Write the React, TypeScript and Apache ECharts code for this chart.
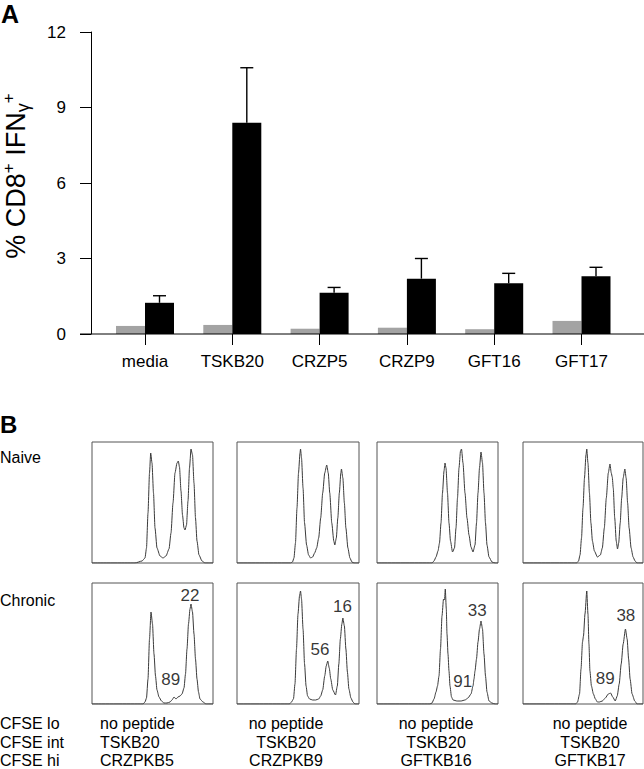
import React, { useEffect, useRef } from "react";
import * as echarts from "echarts";

const FONT = "'Liberation Sans', Arial, Helvetica, sans-serif";

// ---------- Panel A data ----------
const categories = ["media", "TSKB20", "CRZP5", "CRZP9", "GFT16", "GFT17"];
const yTicks = [0, 3, 6, 9, 12];
const naiveValues = [0.32, 0.36, 0.21, 0.25, 0.19, 0.52];
const chronicValues = [1.24, 8.39, 1.64, 2.2, 2.02, 2.29];
const chronicUpper = [1.52, 10.58, 1.85, 3.0, 2.41, 2.65];

// ---------- Panel B data (histogram traces, x: channel, y: count) ----------
const naive1 = [[0,0],[43,0],[50,2],[53,5],[54.5,15],[56,50],[57.5,90],[58.7,110],[60,100],[61.5,70],[63,35],[65,15],[68,7],[71,5],[74,7],[77,14],[79,30],[81,60],[83,90],[85,100],[86.3,102],[87.5,96],[89,72],[90.5,48],[92,35],[93,33],[94.5,38],[96,62],[97.5,95],[99,114],[100.5,108],[102,80],[103.5,45],[105,22],[107,8],[110,2],[113,0],[121,0]];
const naive2 = [[0,0],[53,0],[55,1],[56.5,5],[58,20],[59.5,55],[61,90],[62.5,110],[63,114],[64,105],[65.5,75],[67,40],[69,18],[71,8],[73,5],[75,6],[77,10],[79,15],[81,25],[83,45],[85,70],[87,90],[89,98],[90.5,90],[92,70],[94,40],[96,22],[97,18],[98.5,25],[100,45],[101.5,70],[103,90],[103.6,94],[105,85],[106.5,60],[108,35],[110,15],[112,5],[114,1],[116,0],[121,0]];
const naive3 = [[0,0],[55,0],[57,2],[59,6],[61,12],[62.5,20],[64,40],[65.5,70],[67,92],[68,100],[69,95],[70.5,70],[72,40],[73.5,22],[75.5,11],[77.5,15],[79,35],[80.5,65],[82,95],[83.5,112],[84.5,114],[86,100],[88,70],[90,45],[92,28],[94,16],[96,11],[98,18],[99.5,40],[101,70],[102.5,95],[104,111],[105.5,100],[107,70],[108.5,40],[110,18],[112,6],[115,1],[118,0],[121,0]];
const naive4 = [[0,0],[54,0],[56,2],[57.5,8],[59,25],[60.5,55],[62,85],[63.5,108],[64.3,114],[65.5,100],[67,70],[68.5,40],[70,22],[72,12],[75,6],[78,8],[80,15],[82,35],[84,65],[86,90],[87.7,99],[89,90],[90,86],[91,75],[92.5,45],[94,22],[95.3,14],[96.5,20],[98,40],[99.5,65],[101,85],[102.7,94],[104,85],[105.5,60],[107,35],[109,15],[111,6],[113,2],[115,0],[121,0]];
const chronic1 = [[0,0],[51,0],[53,2],[54.5,6],[56,25],[57.5,65],[59,92],[60.5,80],[62,50],[63.5,28],[65,14],[67,7],[69.5,3],[72,1],[75,1],[78,2],[80,4],[82,7],[84,5],[86,7],[88,8],[90,10],[92,16],[93.5,30],[95,55],[96.5,80],[98,95],[99,100],[100.5,92],[102,70],[103.5,45],[105,25],[106.5,12],[108,5],[111,2],[114,0],[121,0]];
const chronic2 = [[0,0],[52,0],[54,2],[56,5],[57.5,20],[59,55],[60.5,90],[62,108],[63,113],[64,105],[65.5,75],[67,40],[68.5,18],[70,8],[72,5],[75,4],[78,4],[81,5],[83,8],[85,14],[87,28],[88.5,38],[90,43],[91.5,36],[93,25],[95,14],[97.7,9],[99.5,18],[101,40],[102.5,65],[104,80],[105,86],[106.5,78],[108,55],[109.5,32],[111,15],[113,6],[115,2],[117,0],[121,0]];
const chronic3 = [[0,0],[53,0],[55,1],[57,5],[59,12],[60.5,18],[62,28],[63.5,55],[65,88],[66.5,105],[67.5,104],[68.3,115],[69.3,95],[70,70],[71,50],[72,33],[73,18],[74.5,7],[76,4],[80,3],[84,3],[88,4],[91,6],[94,10],[96,18],[97,25],[98,33],[99.5,45],[101,62],[102.5,75],[104,83],[105.5,75],[107,50],[108.5,28],[110,12],[112,3],[115,1],[118,0],[121,0]];
const chronic4 = [[0,0],[53,0],[55,2],[57,10],[58.5,35],[60,62],[61,68],[62.5,90],[64.3,113],[65.5,90],[66.5,60],[67.5,33],[69,18],[71,10],[73,5],[75,2],[77,2],[80,3],[83,6],[86,10],[88.3,11],[90.5,7],[93,3],[95,8],[97,20],[99,40],[101,60],[103.3,75],[105,65],[106.5,45],[108,25],[110,10],[112.7,3],[115,0],[121,0]];
const naiveCurves = [naive1, naive2, naive3, naive4];
const chronicCurves = [chronic1, chronic2, chronic3, chronic4];

// percentages shown in the chronic panels: [upper peak, lower peak]
const chronicPercents = [["22", "89"], ["16", "56"], ["33", "91"], ["38", "89"]];
// annotation anchor points, in histogram coordinates
const percentAnchors = [
  [[98, 109], [78.7, 25]],
  [[104.7, 98], [82.3, 55]],
  [[100.3, 94], [85.7, 23]],
  [[103.7, 89], [83, 26]],
];

const rowNames = ["Naive", "Chronic"];
const cfseNames = ["CFSE lo", "CFSE int", "CFSE hi"];
const peptideSets = [
  ["no peptide", "TSKB20", "CRZPKB5"],
  ["no peptide", "TSKB20", "CRZPKB9"],
  ["no peptide", "TSKB20", "GFTKB16"],
  ["no peptide", "TSKB20", "GFTKB17"],
];

// ---------- layout ----------
const colLeft = [92, 237, 377, 523];
const colWidth = [121, 122, 121, 120];
const rowTop = [442, 583];
const boxH = 121;
const peptideX = [100, 286, 436, 590];
const peptideAlign = ["left", "center", "center", "center"];
const cfseY = [723, 742, 760];

function buildOption() {
  const grids: any[] = [
    { left: 101.35, right: 644 - 625.15, top: 32, bottom: 769 - 334, containLabel: false },
  ];
  const xAxes: any[] = [
    {
      type: "category",
      gridIndex: 0,
      data: categories,
      axisLine: { show: false },
      axisTick: { show: true, alignWithLabel: true, length: 11, lineStyle: { color: "#000", width: 1 } },
      axisLabel: { color: "#000", fontSize: 17, fontFamily: FONT, margin: 19 },
    },
  ];
  const yAxes: any[] = [
    {
      type: "value",
      gridIndex: 0,
      min: 0,
      max: 12,
      interval: 3,
      offset: 10.35,
      splitLine: { show: false },
      axisLine: { show: true, lineStyle: { color: "#000", width: 1 } },
      axisTick: { show: true, length: 11, lineStyle: { color: "#000", width: 1 } },
      axisLabel: {
        color: "#000",
        fontSize: 17,
        fontFamily: FONT,
        margin: 25,
        formatter: (v: number) => (yTicks.includes(v) ? String(v) : ""),
      },
    },
  ];
  const series: any[] = [
    {
      type: "bar",
      xAxisIndex: 0,
      yAxisIndex: 0,
      data: naiveValues,
      barWidth: 29,
      barGap: "0%",
      itemStyle: { color: "#a3a3a3" },
    },
    {
      type: "bar",
      xAxisIndex: 0,
      yAxisIndex: 0,
      data: chronicValues,
      barWidth: 29,
      barGap: "0%",
      itemStyle: { color: "#000" },
    },
    {
      type: "custom",
      xAxisIndex: 0,
      yAxisIndex: 0,
      data: categories.map((_, i) => [i, chronicValues[i], chronicUpper[i]]),
      z: 3,
      renderItem: (params: any, api: any) => {
        const base = api.coord([api.value(0), api.value(1)]);
        const top = api.coord([api.value(0), api.value(2)]);
        const x = base[0] + 14.5;
        const st = { stroke: "#000", lineWidth: 1.4 };
        return {
          type: "group",
          children: [
            { type: "line", shape: { x1: x, y1: base[1], x2: x, y2: top[1] }, style: st },
            { type: "line", shape: { x1: x - 6.5, y1: top[1], x2: x + 6.5, y2: top[1] }, style: st },
          ],
        };
      },
    },
  ];

  let gi = 1;
  for (let r = 0; r < 2; r++) {
    for (let c = 0; c < 4; c++) {
      grids.push({
        left: colLeft[c],
        top: rowTop[r],
        width: colWidth[c],
        height: boxH,
        show: true,
        borderColor: "#555",
        borderWidth: 1,
        backgroundColor: "transparent",
      });
      xAxes.push({ type: "value", gridIndex: gi, min: 0, max: 121, show: false });
      yAxes.push({ type: "value", gridIndex: gi, min: 0, max: 121, show: false });
      const curve = r === 0 ? naiveCurves[c] : chronicCurves[c];
      series.push({
        type: "line",
        xAxisIndex: gi,
        yAxisIndex: gi,
        data: curve,
        showSymbol: false,
        smooth: 0.2,
        smoothMonotone: "x",
        lineStyle: { color: "#3a3a3a", width: 1 },
        silent: true,
      });
      if (r === 1) {
        series.push({
          type: "scatter",
          xAxisIndex: gi,
          yAxisIndex: gi,
          symbolSize: 1,
          itemStyle: { color: "transparent" },
          data: percentAnchors[c].map((p, k) => ({ value: p, name: chronicPercents[c][k] })),
          label: {
            show: true,
            position: "inside",
            formatter: (p: any) => p.name,
            color: "#000",
            fontSize: 17,
            fontFamily: FONT,
          },
          silent: true,
        });
      }
      gi++;
    }
  }

  const graphic: any[] = [
    { type: "line", shape: { x1: 80, y1: 334, x2: 644, y2: 334 }, style: { stroke: "#000", lineWidth: 1 }, z: 10 },
    {
      type: "text",
      x: 1,
      y: 14,
      style: { text: "A", fontSize: 25, fontWeight: "bold", fontFamily: FONT, fill: "#000", textVerticalAlign: "middle" },
    },
    {
      type: "text",
      x: 0,
      y: 424.5,
      style: { text: "B", fontSize: 24, fontWeight: "bold", fontFamily: FONT, fill: "#000", textVerticalAlign: "middle" },
    },
    {
      type: "text",
      x: 16,
      y: 176,
      rotation: Math.PI / 2,
      style: {
        text: "% CD8{sup|+} IFN{sub|γ}{sup|+}",
        fontSize: 27,
        fontFamily: FONT,
        fill: "#000",
        lineHeight: 32,
        textAlign: "center",
        textVerticalAlign: "middle",
        rich: {
          sup: { fontSize: 17, fontFamily: FONT, fill: "#000", verticalAlign: "top", lineHeight: 32 },
          sub: { fontSize: 18, fontFamily: FONT, fill: "#000", verticalAlign: "bottom", lineHeight: 32 },
        },
      },
    },
  ];
  rowNames.forEach((t, r) => {
    graphic.push({
      type: "text",
      x: 0,
      y: r === 0 ? 457 : 600,
      style: { text: t, fontSize: 16, fontFamily: FONT, fill: "#000", textVerticalAlign: "middle" },
    });
  });
  cfseNames.forEach((t, k) => {
    graphic.push({
      type: "text",
      x: 0,
      y: cfseY[k],
      style: { text: t, fontSize: 16, fontFamily: FONT, fill: "#000", textVerticalAlign: "middle" },
    });
  });
  peptideSets.forEach((set, c) => {
    set.forEach((t, k) => {
      graphic.push({
        type: "text",
        x: peptideX[c],
        y: cfseY[k],
        style: {
          text: t,
          fontSize: 16,
          fontFamily: FONT,
          fill: "#000",
          textAlign: peptideAlign[c],
          textVerticalAlign: "middle",
        },
      });
    });
  });

  return {
    animation: false,
    backgroundColor: "#fff",
    grid: grids,
    xAxis: xAxes,
    yAxis: yAxes,
    series,
    graphic,
  };
}

export default function App() {
  const ref = useRef<HTMLDivElement>(null);
  useEffect(() => {
    if (!ref.current) return;
    const chart = echarts.init(ref.current, null, { renderer: "svg" });
    chart.setOption(buildOption() as any);
    return () => chart.dispose();
  }, []);
  return (
    <div
      ref={ref}
      style={{ position: "absolute", left: 0, top: 0, width: 644, height: 769 }}
    />
  );
}
